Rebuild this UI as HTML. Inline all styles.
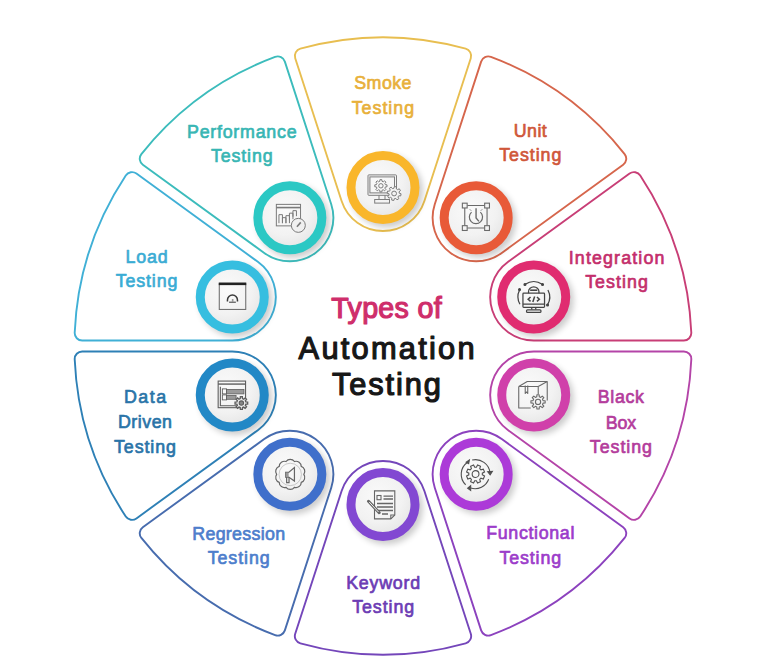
<!DOCTYPE html><html><head><meta charset="utf-8"><style>html,body{margin:0;padding:0;background:#fff;overflow:hidden;}svg{display:block;}text{font-family:"Liberation Sans",sans-serif;font-weight:bold;}</style></head><body>
<svg width="768" height="669" viewBox="0 0 768 669">
<defs><radialGradient id="ig" cx="42%" cy="38%" r="65%"><stop offset="0" stop-color="#fafafa"/><stop offset="0.6" stop-color="#f2f2f2"/><stop offset="1" stop-color="#e4e4e4"/></radialGradient>
<filter id="sh" x="-50%" y="-50%" width="200%" height="200%"><feGaussianBlur stdDeviation="3"/></filter></defs>
<path d="M341.60,200.95 L295.22,58.22 A7.5,7.5 0 0 1 300.35,48.67 A308.6,308.6 0 0 1 465.65,48.67 A7.5,7.5 0 0 1 470.78,58.22 L424.40,200.95 A43.53,43.53 0 0 1 341.60,200.95 Z" fill="none" stroke="#E8BE50" stroke-width="1.9"/>
<path d="M434.77,204.32 L481.14,61.59 A7.5,7.5 0 0 1 490.90,56.88 A308.6,308.6 0 0 1 624.63,154.04 A7.5,7.5 0 0 1 623.17,164.77 L501.75,252.99 A43.53,43.53 0 0 1 434.77,204.32 Z" fill="none" stroke="#D6664C" stroke-width="1.9"/>
<path d="M508.16,261.80 L629.57,173.59 A7.5,7.5 0 0 1 640.23,175.52 A308.6,308.6 0 0 1 691.31,332.73 A7.5,7.5 0 0 1 683.82,340.55 L533.74,340.55 A43.53,43.53 0 0 1 508.16,261.80 Z" fill="none" stroke="#C83E76" stroke-width="1.9"/>
<path d="M533.74,351.45 L683.82,351.45 A7.5,7.5 0 0 1 691.31,359.27 A308.6,308.6 0 0 1 640.23,516.48 A7.5,7.5 0 0 1 629.57,518.41 L508.16,430.20 A43.53,43.53 0 0 1 533.74,351.45 Z" fill="none" stroke="#B444A8" stroke-width="1.9"/>
<path d="M501.75,439.01 L623.17,527.23 A7.5,7.5 0 0 1 624.63,537.96 A308.6,308.6 0 0 1 490.90,635.12 A7.5,7.5 0 0 1 481.14,630.41 L434.77,487.68 A43.53,43.53 0 0 1 501.75,439.01 Z" fill="none" stroke="#8C42BE" stroke-width="1.9"/>
<path d="M424.40,491.05 L470.78,633.78 A7.5,7.5 0 0 1 465.65,643.33 A308.6,308.6 0 0 1 300.35,643.33 A7.5,7.5 0 0 1 295.22,633.78 L341.60,491.05 A43.53,43.53 0 0 1 424.40,491.05 Z" fill="none" stroke="#7446BA" stroke-width="1.9"/>
<path d="M331.23,487.68 L284.86,630.41 A7.5,7.5 0 0 1 275.10,635.12 A308.6,308.6 0 0 1 141.37,537.96 A7.5,7.5 0 0 1 142.83,527.23 L264.25,439.01 A43.53,43.53 0 0 1 331.23,487.68 Z" fill="none" stroke="#476CAE" stroke-width="1.9"/>
<path d="M257.84,430.20 L136.43,518.41 A7.5,7.5 0 0 1 125.77,516.48 A308.6,308.6 0 0 1 74.69,359.27 A7.5,7.5 0 0 1 82.18,351.45 L232.26,351.45 A43.53,43.53 0 0 1 257.84,430.20 Z" fill="none" stroke="#2E80B6" stroke-width="1.9"/>
<path d="M232.26,340.55 L82.18,340.55 A7.5,7.5 0 0 1 74.69,332.73 A308.6,308.6 0 0 1 125.77,175.52 A7.5,7.5 0 0 1 136.43,173.59 L257.84,261.80 A43.53,43.53 0 0 1 232.26,340.55 Z" fill="none" stroke="#40B0D6" stroke-width="1.9"/>
<path d="M264.25,252.99 L142.83,164.77 A7.5,7.5 0 0 1 141.37,154.04 A308.6,308.6 0 0 1 275.10,56.88 A7.5,7.5 0 0 1 284.86,61.59 L331.23,204.32 A43.53,43.53 0 0 1 264.25,252.99 Z" fill="none" stroke="#3CBCBC" stroke-width="1.9"/>
<circle cx="386.50" cy="191.00" r="36.5" fill="#000" opacity="0.2" filter="url(#sh)"/>
<circle cx="383.00" cy="187.50" r="32.00" fill="url(#ig)" stroke="#F9B62B" stroke-width="9.00"/>
<g class="icon" transform="translate(383.50,188.10)"><g stroke="#7c7c7c" stroke-width="1" fill="none"><rect x="-15.5" y="-13.2" width="28.5" height="20.4" rx="0.8"/><rect x="-13.6" y="-11.2" width="24.6" height="16" /><path d="M-4.5,7.2 V11.2 M1.5,7.2 V11.2"/><rect x="-8.8" y="11.4" width="14.8" height="3.6" /><path d="M1.86,-3.42 L3.52,-3.27 L3.52,-1.33 L1.86,-1.18 L1.35,0.06 L2.42,1.34 L1.04,2.72 L-0.24,1.65 L-1.48,2.16 L-1.63,3.82 L-3.57,3.82 L-3.72,2.16 L-4.96,1.65 L-6.24,2.72 L-7.62,1.34 L-6.55,0.06 L-7.06,-1.18 L-8.72,-1.33 L-8.72,-3.27 L-7.06,-3.42 L-6.55,-4.66 L-7.62,-5.94 L-6.24,-7.32 L-4.96,-6.25 L-3.72,-6.76 L-3.57,-8.42 L-1.63,-8.42 L-1.48,-6.76 L-0.24,-6.25 L1.04,-7.32 L2.42,-5.94 L1.35,-4.66 Z"/><circle cx="-2.6" cy="-2.3" r="2.2"/><path d="M15.79,5.16 L17.59,5.70 L17.16,7.85 L15.29,7.64 L14.44,8.91 L15.33,10.56 L13.51,11.77 L12.33,10.30 L10.84,10.59 L10.30,12.39 L8.15,11.96 L8.36,10.09 L7.09,9.24 L5.44,10.13 L4.23,8.31 L5.70,7.13 L5.41,5.64 L3.61,5.10 L4.04,2.95 L5.91,3.16 L6.76,1.89 L5.87,0.24 L7.69,-0.97 L8.87,0.50 L10.36,0.21 L10.90,-1.59 L13.05,-1.16 L12.84,0.71 L14.11,1.56 L15.76,0.67 L16.97,2.49 L15.50,3.67 Z" fill="#f2f2f2"/><circle cx="10.6" cy="5.4" r="2.4"/></g></g>
<text transform="scale(0.95,1)" x="403.05" y="89" fill="#E8B03A" style="font-weight:normal" stroke="#E8B03A" stroke-width="0.7" stroke-linejoin="round" font-size="18.8" text-anchor="middle" textLength="60.21" lengthAdjust="spacing">Smoke</text>
<text transform="scale(0.95,1)" x="403.05" y="113.6" fill="#E8B03A" style="font-weight:normal" stroke="#E8B03A" stroke-width="0.7" stroke-linejoin="round" font-size="18.8" text-anchor="middle" textLength="65.68" lengthAdjust="spacing">Testing</text>
<circle cx="479.66" cy="221.27" r="36.5" fill="#000" opacity="0.2" filter="url(#sh)"/>
<circle cx="476.16" cy="217.77" r="32.00" fill="url(#ig)" stroke="#E85A38" stroke-width="9.00"/>
<g class="icon" transform="translate(475.76,216.77)"><g stroke="#6a6a6a" stroke-width="1.1" fill="none"><path d="M-8.5,-11.2 H8.8 M-8.5,11.3 H8.8 M-11,-8.8 V8.8 M11.3,-8.8 V8.8"/><rect x="-13.4" y="-13.6" width="4.8" height="4.8" fill="#f4f4f4"/><rect x="8.9" y="-13.6" width="4.8" height="4.8" fill="#f4f4f4"/><rect x="-13.4" y="8.9" width="4.8" height="4.8" fill="#f4f4f4"/><rect x="8.9" y="8.9" width="4.8" height="4.8" fill="#f4f4f4"/><path d="M-4.2,-4.6 A6.6,6.6 0 1 0 4.6,-4.6" stroke-width="1.2"/><path d="M0.3,-8.5 V1.2 L3.2,4.6" stroke-width="1.4"/><path d="M-6,-7.5 l1.5,1.5 M6.5,-7.5 l-1.5,1.5" stroke-width="0.8"/></g></g>
<text transform="scale(0.95,1)" x="558.21" y="137.5" fill="#D0573A" style="font-weight:normal" stroke="#D0573A" stroke-width="0.7" stroke-linejoin="round" font-size="18.8" text-anchor="middle" textLength="34.63" lengthAdjust="spacing">Unit</text>
<text transform="scale(0.95,1)" x="558.21" y="161.3" fill="#D0573A" style="font-weight:normal" stroke="#D0573A" stroke-width="0.7" stroke-linejoin="round" font-size="18.8" text-anchor="middle" textLength="65.37" lengthAdjust="spacing">Testing</text>
<circle cx="537.24" cy="300.52" r="36.5" fill="#000" opacity="0.2" filter="url(#sh)"/>
<circle cx="533.74" cy="297.02" r="32.00" fill="url(#ig)" stroke="#E02C70" stroke-width="9.00"/>
<g class="icon" transform="translate(533.74,296.42)"><g stroke="#444444" stroke-width="1.25" fill="none"><rect x="-10.8" y="-3.2" width="21.6" height="14.2" rx="0.8"/><path d="M-10.8,7.6 H10.8 M-2,11 V13.2 M2,11 V13.2"/><rect x="-7.2" y="13.4" width="14.4" height="2.6" rx="1"/><path d="M-5.2,-3.2 V-5 A5.2,4.6 0 0 1 5.2,-5 V-3.2"/><path d="M-3.6,-6.2 H3.6" stroke-width="1.6"/><path d="M-3.2,0.6 L-5.6,2.8 L-3.2,5 M3.2,0.6 L5.6,2.8 L3.2,5 M0.9,0 L-0.9,5.6" stroke-width="1.5"/><path d="M-8.5,-12.2 A15.5,15.5 0 0 1 8.5,-12.2" /><path d="M-14.2,-6.5 A15.5,15.5 0 0 0 -13.8,7.8" /><path d="M14.2,-6.5 A15.5,15.5 0 0 1 13.8,8.5" /><circle cx="-8.8" cy="-12" r="0.9" fill="#444444"/><circle cx="8.8" cy="-12" r="0.9" fill="#444444"/><circle cx="-14.2" cy="-6.8" r="0.9" fill="#444444"/><circle cx="13.8" cy="8.6" r="0.9" fill="#444444"/></g></g>
<text transform="scale(0.95,1)" x="649.05" y="263.75" fill="#C42E6C" style="font-weight:normal" stroke="#C42E6C" stroke-width="0.7" stroke-linejoin="round" font-size="18.8" text-anchor="middle" textLength="100.63" lengthAdjust="spacing">Integration</text>
<text transform="scale(0.95,1)" x="649.05" y="287.7" fill="#C42E6C" style="font-weight:normal" stroke="#C42E6C" stroke-width="0.7" stroke-linejoin="round" font-size="18.8" text-anchor="middle" textLength="66.21" lengthAdjust="spacing">Testing</text>
<circle cx="537.24" cy="398.48" r="36.5" fill="#000" opacity="0.2" filter="url(#sh)"/>
<circle cx="533.74" cy="394.98" r="32.00" fill="url(#ig)" stroke="#D040AA" stroke-width="9.00"/>
<g class="icon" transform="translate(533.74,394.98)"><g stroke="#6a6a6a" stroke-width="1.1" fill="none" stroke-linejoin="round"><path d="M-15,-8.5 L-6.5,-13.5 H13.5 V5.5 M-15,-8.5 H4.5 L13.5,-13.5 M-15,-8.5 V13 H-3 M4.5,-8.5 V-1"/><path d="M-8.5,-9.5 V-1.5 L-7.3,-3 L-6,-1.5 V-9.5"/><path d="M9.34,5.64 L11.41,5.77 L11.41,8.03 L9.34,8.16 L8.76,9.57 L10.12,11.13 L8.53,12.72 L6.97,11.36 L5.56,11.94 L5.43,14.01 L3.17,14.01 L3.04,11.94 L1.63,11.36 L0.07,12.72 L-1.52,11.13 L-0.16,9.57 L-0.74,8.16 L-2.81,8.03 L-2.81,5.77 L-0.74,5.64 L-0.16,4.23 L-1.52,2.67 L0.07,1.08 L1.63,2.44 L3.04,1.86 L3.17,-0.21 L5.43,-0.21 L5.56,1.86 L6.97,2.44 L8.53,1.08 L10.12,2.67 L8.76,4.23 Z" fill="#f2f2f2"/><circle cx="4.3" cy="6.9" r="2.6"/></g></g>
<text transform="scale(0.95,1)" x="653.58" y="403.5" fill="#B43C9C" style="font-weight:normal" stroke="#B43C9C" stroke-width="0.7" stroke-linejoin="round" font-size="18.8" text-anchor="middle" textLength="48.74" lengthAdjust="spacing">Black</text>
<text transform="scale(0.95,1)" x="653.58" y="428.7" fill="#B43C9C" style="font-weight:normal" stroke="#B43C9C" stroke-width="0.7" stroke-linejoin="round" font-size="18.8" text-anchor="middle" textLength="32.11" lengthAdjust="spacing">Box</text>
<text transform="scale(0.95,1)" x="653.58" y="453.1" fill="#B43C9C" style="font-weight:normal" stroke="#B43C9C" stroke-width="0.7" stroke-linejoin="round" font-size="18.8" text-anchor="middle" textLength="65.58" lengthAdjust="spacing">Testing</text>
<circle cx="479.66" cy="477.73" r="36.5" fill="#000" opacity="0.2" filter="url(#sh)"/>
<circle cx="476.16" cy="474.23" r="32.00" fill="url(#ig)" stroke="#AC3AD8" stroke-width="9.00"/>
<g class="icon" transform="translate(476.16,474.23)"><g stroke="#505050" stroke-width="1.1" fill="none"><path d="M6.15,0.63 L8.38,1.81 L7.17,4.73 L4.76,3.98 L3.58,5.16 L4.33,7.57 L1.41,8.78 L0.23,6.55 L-1.43,6.55 L-2.61,8.78 L-5.53,7.57 L-4.78,5.16 L-5.96,3.98 L-8.37,4.73 L-9.58,1.81 L-7.35,0.63 L-7.35,-1.03 L-9.58,-2.21 L-8.37,-5.13 L-5.96,-4.38 L-4.78,-5.56 L-5.53,-7.97 L-2.61,-9.18 L-1.43,-6.95 L0.23,-6.95 L1.41,-9.18 L4.33,-7.97 L3.58,-5.56 L4.76,-4.38 L7.17,-5.13 L8.38,-2.21 L6.15,-1.03 Z"/><circle cx="-0.6" cy="-0.2" r="3.4"/><path d="M-4,-14.2 A14.5,14.5 0 0 1 13.8,-1.5" /><path d="M12.5,5 A14.5,14.5 0 0 1 -5.5,13.8" /><path d="M-10.5,10.5 A14.5,14.5 0 0 1 -8.5,-12" /><path d="M11.5,-2.5 L14,0.5 L16.2,-2.8 Z" fill="#505050"/><path d="M-5.5,11.5 L-8.5,14 L-5.5,16.2 Z" fill="#505050"/><path d="M-10,-12 L-6.8,-14.2 L-7.5,-10.5 Z" fill="#505050"/></g></g>
<text transform="scale(0.95,1)" x="558.21" y="539.3" fill="#9C3CCA" style="font-weight:normal" stroke="#9C3CCA" stroke-width="0.7" stroke-linejoin="round" font-size="18.8" text-anchor="middle" textLength="92.95" lengthAdjust="spacing">Functional</text>
<text transform="scale(0.95,1)" x="558.21" y="563.7" fill="#9C3CCA" style="font-weight:normal" stroke="#9C3CCA" stroke-width="0.7" stroke-linejoin="round" font-size="18.8" text-anchor="middle" textLength="64.95" lengthAdjust="spacing">Testing</text>
<circle cx="386.50" cy="508.00" r="36.5" fill="#000" opacity="0.2" filter="url(#sh)"/>
<circle cx="383.00" cy="504.50" r="32.00" fill="url(#ig)" stroke="#8248D2" stroke-width="9.00"/>
<g class="icon" transform="translate(383.00,504.50)"><g stroke="#666666" stroke-width="1.1" fill="none"><path d="M-8.5,-13.6 H11.8 V10.5 L7.8,14.4 H-8.5 Z"/><path d="M7.8,14.4 V10.5 H11.8"/><rect x="-6" y="-9" width="4" height="4.2"/><path d="M0.5,-8.3 H10 M0.5,-5.5 H10 M-6,-1 H10 M-6,2.5 H10 M-6,6 H10 M-1,9.5 H5" stroke-width="1.3"/><path d="M-14.5,-3.2 L-3.8,8.2" stroke-width="3" stroke-linecap="round"/><path d="M-13.8,-2.5 L-4.5,7.5" stroke="#eee" stroke-width="1"/></g></g>
<text transform="scale(0.95,1)" x="403.37" y="588.6" fill="#6C3CB4" style="font-weight:normal" stroke="#6C3CB4" stroke-width="0.7" stroke-linejoin="round" font-size="18.8" text-anchor="middle" textLength="77.89" lengthAdjust="spacing">Keyword</text>
<text transform="scale(0.95,1)" x="403.37" y="613.4" fill="#6C3CB4" style="font-weight:normal" stroke="#6C3CB4" stroke-width="0.7" stroke-linejoin="round" font-size="18.8" text-anchor="middle" textLength="65.26" lengthAdjust="spacing">Testing</text>
<circle cx="293.34" cy="477.73" r="36.5" fill="#000" opacity="0.2" filter="url(#sh)"/>
<circle cx="289.84" cy="474.23" r="32.00" fill="url(#ig)" stroke="#3F6FCB" stroke-width="9.00"/>
<g class="icon" transform="translate(289.84,475.03)"><g stroke="#666666" stroke-width="1.2" fill="none"><path d="M14.00,-0.60 A5.25,5.25 0 0 1 11.40,7.39 A5.25,5.25 0 0 1 4.60,12.33 A5.25,5.25 0 0 1 -3.80,12.33 A5.25,5.25 0 0 1 -10.60,7.39 A5.25,5.25 0 0 1 -13.20,-0.60 A5.25,5.25 0 0 1 -10.60,-8.59 A5.25,5.25 0 0 1 -3.80,-13.53 A5.25,5.25 0 0 1 4.60,-13.53 A5.25,5.25 0 0 1 11.40,-8.59 A5.25,5.25 0 0 1 14.00,-0.60 Z"/><circle cx="0.4" cy="-0.6" r="11.2" stroke-width="0.6" stroke="#aaa"/><path d="M-4.2,-2.6 H-1.2 L4.6,-7.4 V6 L-1.2,2 H-4.2 Z" /><path d="M-3.2,2 V7.6 H-0.8 V2" /><rect x="-4.2" y="-2.6" width="3" height="4.6" fill="#999" stroke="none"/></g></g>
<text transform="scale(0.95,1)" x="251.26" y="539.7" fill="#4D7ECC" style="font-weight:normal" stroke="#4D7ECC" stroke-width="0.7" stroke-linejoin="round" font-size="18.8" text-anchor="middle" textLength="97.68" lengthAdjust="spacing">Regression</text>
<text transform="scale(0.95,1)" x="251.26" y="563.75" fill="#4D7ECC" style="font-weight:normal" stroke="#4D7ECC" stroke-width="0.7" stroke-linejoin="round" font-size="18.8" text-anchor="middle" textLength="65.26" lengthAdjust="spacing">Testing</text>
<circle cx="235.76" cy="398.48" r="36.5" fill="#000" opacity="0.2" filter="url(#sh)"/>
<circle cx="232.26" cy="394.98" r="32.00" fill="url(#ig)" stroke="#2288C6" stroke-width="9.00"/>
<g class="icon" transform="translate(231.76,394.68)"><g stroke="#5e5e5e" stroke-width="1.1" fill="none"><rect x="-13.6" y="-13.6" width="27.4" height="26.6"/><path d="M-13.6,-10.6 H13.8" stroke-width="1.4"/><path d="M-11.4,-8 V11 H5"/><rect x="-9.4" y="-5.8" width="4.2" height="5" stroke-width="0.9"/><rect x="-9.4" y="0.2" width="4.2" height="5" stroke-width="0.9"/><rect x="-5.2" y="-5.2" width="17.4" height="4.4" fill="#9a9a9a" stroke-width="0.8"/><rect x="-5.2" y="0.8" width="9.5" height="3.8" fill="#9a9a9a" stroke-width="0.8"/><path d="M14.06,7.28 L15.92,7.40 L15.92,9.40 L14.06,9.52 L13.55,10.76 L14.78,12.16 L13.36,13.58 L11.96,12.35 L10.72,12.86 L10.60,14.72 L8.60,14.72 L8.48,12.86 L7.24,12.35 L5.84,13.58 L4.42,12.16 L5.65,10.76 L5.14,9.52 L3.28,9.40 L3.28,7.40 L5.14,7.28 L5.65,6.04 L4.42,4.64 L5.84,3.22 L7.24,4.45 L8.48,3.94 L8.60,2.08 L10.60,2.08 L10.72,3.94 L11.96,4.45 L13.36,3.22 L14.78,4.64 L13.55,6.04 Z" fill="#f0f0f0" stroke-width="1.3"/><circle cx="9.6" cy="8.4" r="2.2" fill="#888"/></g></g>
<text transform="scale(0.95,1)" x="152.63" y="403.3" fill="#2A74A8" style="font-weight:normal" stroke="#2A74A8" stroke-width="0.7" stroke-linejoin="round" font-size="18.8" text-anchor="middle" textLength="44.42" lengthAdjust="spacing">Data</text>
<text transform="scale(0.95,1)" x="152.63" y="428.5" fill="#2A74A8" style="font-weight:normal" stroke="#2A74A8" stroke-width="0.7" stroke-linejoin="round" font-size="18.8" text-anchor="middle" textLength="56.84" lengthAdjust="spacing">Driven</text>
<text transform="scale(0.95,1)" x="152.63" y="452.7" fill="#2A74A8" style="font-weight:normal" stroke="#2A74A8" stroke-width="0.7" stroke-linejoin="round" font-size="18.8" text-anchor="middle" textLength="65.26" lengthAdjust="spacing">Testing</text>
<circle cx="235.76" cy="300.52" r="36.5" fill="#000" opacity="0.2" filter="url(#sh)"/>
<circle cx="232.26" cy="297.02" r="32.00" fill="url(#ig)" stroke="#36BEE0" stroke-width="9.00"/>
<g class="icon" transform="translate(232.26,297.02)"><g stroke="#666" stroke-width="1" fill="none"><rect x="-13" y="-13.2" width="26.5" height="25.6"/><rect x="-13.5" y="-14.5" width="27.5" height="2.6" fill="#222" stroke="none"/><path d="M-4.8,4.6 V3 A5,5 0 0 1 5.2,3 V4.6" stroke="#3a3a3a" stroke-width="1.5"/><path d="M-3.2,5.2 H3.6" stroke="#555" stroke-width="1.2"/><rect x="-0.4" y="2" width="1.6" height="3" fill="#999" stroke="none"/></g></g>
<text transform="scale(0.95,1)" x="154.32" y="263.4" fill="#3AACD4" style="font-weight:normal" stroke="#3AACD4" stroke-width="0.7" stroke-linejoin="round" font-size="18.8" text-anchor="middle" textLength="44.42" lengthAdjust="spacing">Load</text>
<text transform="scale(0.95,1)" x="154.32" y="287.5" fill="#3AACD4" style="font-weight:normal" stroke="#3AACD4" stroke-width="0.7" stroke-linejoin="round" font-size="18.8" text-anchor="middle" textLength="64.74" lengthAdjust="spacing">Testing</text>
<circle cx="293.34" cy="221.27" r="36.5" fill="#000" opacity="0.2" filter="url(#sh)"/>
<circle cx="289.84" cy="217.77" r="32.00" fill="url(#ig)" stroke="#2BC8C4" stroke-width="9.00"/>
<g class="icon" transform="translate(288.94,217.17)"><g stroke="#7a7a7a" stroke-width="1" fill="none"><rect x="-12.6" y="-12.8" width="24.2" height="21.5"/><path d="M-12.6,-9.6 H11.6" stroke-width="1.6"/><path d="M-10,6 V-2.5 H-6.5 V6 M-6.5,6 V0.5 H-3 V6 M-3,6 V-1.5 H0.5 V6 M0.5,3 V-4 H4 V2 M4,-0.5 V-6.5 H7.5 V-1"/><circle cx="9.4" cy="8.2" r="7" fill="#f0f0f0"/><path d="M8,9.6 L11.8,5.2" stroke-width="1.6"/></g></g>
<text transform="scale(0.95,1)" x="254.53" y="138.1" fill="#38B6B4" style="font-weight:normal" stroke="#38B6B4" stroke-width="0.7" stroke-linejoin="round" font-size="18.8" text-anchor="middle" textLength="115.37" lengthAdjust="spacing">Performance</text>
<text transform="scale(0.95,1)" x="254.53" y="161.9" fill="#38B6B4" style="font-weight:normal" stroke="#38B6B4" stroke-width="0.7" stroke-linejoin="round" font-size="18.8" text-anchor="middle" textLength="64.84" lengthAdjust="spacing">Testing</text>
<text transform="scale(0.97,1)" x="398.45" y="318.0" fill="#CF2E6B" stroke="#CF2E6B" style="font-weight:normal" stroke-width="1.25" stroke-linejoin="round" font-size="29.5" text-anchor="middle" textLength="113.71" lengthAdjust="spacing">Types of</text>
<text transform="scale(0.97,1)" x="398.56" y="358.9" fill="#171717" stroke="#171717" style="font-weight:normal" stroke-width="1.25" stroke-linejoin="round" font-size="31.8" text-anchor="middle" textLength="181.44" lengthAdjust="spacing">Automation</text>
<text transform="scale(0.97,1)" x="398.45" y="394.8" fill="#171717" stroke="#171717" style="font-weight:normal" stroke-width="1.25" stroke-linejoin="round" font-size="31.8" text-anchor="middle" textLength="112.37" lengthAdjust="spacing">Testing</text>
</svg></body></html>
